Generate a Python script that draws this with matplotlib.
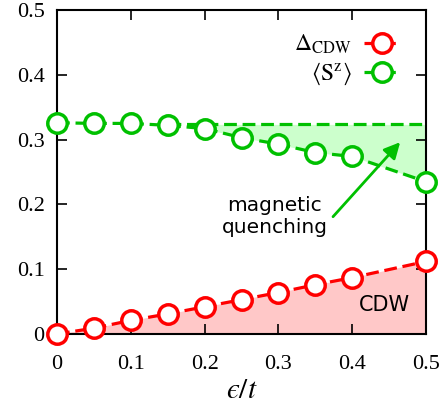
import numpy as np
import matplotlib.pyplot as plt

plt.rcParams["font.family"] = ["Liberation Serif", "DejaVu Serif"]
plt.rcParams["mathtext.fontset"] = "stix"

# ---- data ----
eps = [0.0, 0.05, 0.10, 0.15, 0.20, 0.25, 0.30, 0.35, 0.40, 0.50]
delta_cdw = [0.0, 0.009, 0.021, 0.031, 0.042, 0.053, 0.064, 0.076, 0.087, 0.112]
sz = [0.326, 0.325, 0.325, 0.322, 0.317, 0.303, 0.293, 0.280, 0.274, 0.235]
sz_ref = 0.3235          # unquenched moment level
ref_range = [0.15, 0.50]

red = "#ff0000"
green = "#00c000"
dash = (4, 1.8)

fig = plt.figure(figsize=(4.42, 4.11), dpi=100)
ax = fig.add_axes([57 / 442, 1 - 334 / 411, 369 / 442, 324 / 411])

eps_a = np.array(eps)
sz_a = np.array(sz)

# shaded regions
ax.fill_between(eps_a, 0, delta_cdw, color="#ffc8c8", lw=0, zorder=1)
m = eps_a >= 0.2
ax.fill_between(eps_a[m], sz_a[m], sz_ref, color="#ccffcc", lw=0, zorder=1)

ax.plot(ref_range, [sz_ref, sz_ref], color=green, lw=2.3, dashes=dash, zorder=2)

ax.plot(eps, delta_cdw, color=red, lw=2.3, dashes=dash, marker="o", ms=14,
        mfc="white", mec=red, mew=2.5, zorder=3, clip_on=False,
        label=r"$\Delta_{\rm CDW}$")
ax.plot(eps, sz, color=green, lw=2.3, dashes=dash, marker="o", ms=14,
        mfc="white", mec=green, mew=2.5, zorder=3, clip_on=False,
        label=r"$\langle \mathrm{S}^{\rm z}\rangle$")

ax.set_xlim(0, 0.5)
ax.set_ylim(0, 0.5)
ax.set_xticks(np.arange(0, 0.51, 0.1))
ax.set_yticks(np.arange(0, 0.51, 0.1))
ax.set_xticklabels(["0", "0.1", "0.2", "0.3", "0.4", "0.5"])
ax.set_yticklabels(["0", "0.1", "0.2", "0.3", "0.4", "0.5"])
ax.tick_params(direction="in", length=7, width=1.2, top=True, right=True,
               labelsize=16)
ax.tick_params(axis="x", pad=15)
ax.tick_params(axis="y", pad=9)
for s in ax.spines.values():
    s.set_linewidth(1.5)
ax.set_xlabel("$\u03f5/t$", fontsize=21, va="top")
ax.xaxis.set_label_coords(0.5, -0.135)

leg = ax.legend(loc="upper right", bbox_to_anchor=(0.985, 0.995), frameon=False,
                fontsize=17, markerfirst=False, handlelength=1.5,
                handletextpad=0.5, labelspacing=0.2)

ax.annotate("", xy=(0.465, 0.296), xytext=(0.374, 0.181),
            arrowprops=dict(arrowstyle="-|>", color=green, lw=2,
                            mutation_scale=24, shrinkA=0, shrinkB=0))
ax.text(0.295, 0.181, "magnetic\nquenching", ha="center", va="center",
        fontsize=14.5, family="DejaVu Sans", linespacing=1.2)
ax.text(0.444, 0.045, "CDW", ha="center", va="center", fontsize=15,
        family="DejaVu Sans")

fig.savefig("out.png", dpi=100)
